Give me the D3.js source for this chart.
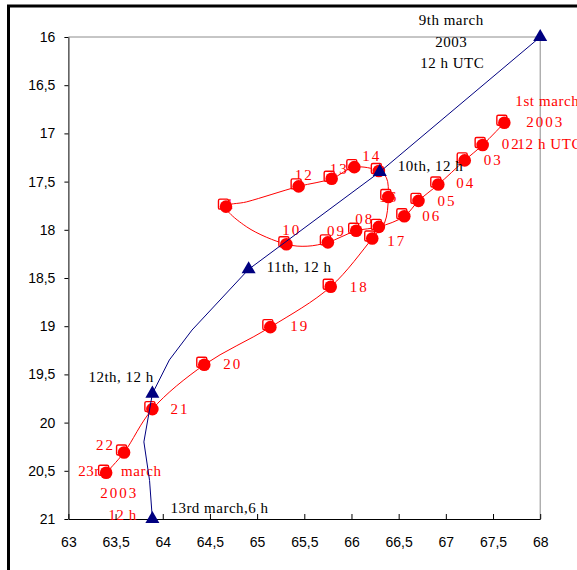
<!DOCTYPE html>
<html>
<head>
<meta charset="utf-8">
<script src="https://cdn.jsdelivr.net/npm/d3@7/dist/d3.min.js"></script>
<style>
  body { margin: 0; background: #fff; }
  svg { display: block; }
</style>
</head>
<body>
<svg id="chart" width="577" height="570"></svg>
<script>
// ---------------- DATA ----------------
const lonTicks = [63, 63.5, 64, 64.5, 65, 65.5, 66, 66.5, 67, 67.5, 68];
const latTicks = [16, 16.5, 17, 17.5, 18, 18.5, 19, 19.5, 20, 20.5, 21];

// Red track: daily positions (1st .. 23rd March 2003)
const redDays = ["01","02","03","04","05","06","07","08","09","10","11","12",
                 "13","14","15","16","17","18","19","20","21","22","23"];
const redLon = [67.62, 67.39, 67.20, 66.92, 66.71, 66.56, 66.29, 66.05, 65.75, 65.31, 64.67, 65.44,
                65.79, 66.03, 66.29, 66.39, 66.22, 65.78, 65.14, 64.44, 63.89, 63.59, 63.40];
const redLat = [16.89, 17.12, 17.28, 17.53, 17.70, 17.86, 17.97, 18.01, 18.13, 18.15, 17.76, 17.55,
                17.47, 17.35, 17.39, 17.66, 18.09, 18.59, 19.01, 19.40, 19.86, 20.31, 20.52];
// unmarked positions of the red track line (inserted after given index)
const redExtraAfter = [8, 9, 10, 14, 15];
const redExtraLon   = [65.53, 64.89, 64.89, 66.37, 66.35];
const redExtraLat   = [18.17, 17.97, 17.71, 17.46, 17.93];

// Blue track (9th 12 h .. 13th 6 h)
const blueLon    = [68.00, 66.30, 64.91, 64.31, 64.07, 63.89, 63.80, 63.86, 63.89];
const blueLat    = [16.00, 17.40, 18.41, 19.04, 19.35, 19.70, 20.20, 20.60, 21.00];
const blueMarked = [true, true, true, false, false, true, false, false, true];

// Red labels: text, index of point
const redLabelText  = ["1st march","2003","12 h UTC","02","03","04","05","06","08","09","10","11",
                       "12","13","14","16","17","18","19","20","21","22","23rd\u00a0\u00a0\u00a0march","2003","12 h"];
const redLabelPoint = [0,0,0,1,2,3,4,5,7,8,9,10,11,12,13,15,16,17,18,19,20,21,22,22,22];
// Black labels: text, index of blue point
const blackLabelText  = ["9th march","2003","12 h UTC","10th, 12 h","11th, 12 h","12th, 12 h","13rd march,6 h"];
const blackLabelPoint = [0,0,0,1,2,5,8];

// ---------------- LAYOUT ----------------
const redLabelOffset = [[11,-17],[22,4],[13,26],[19,4],[19,5],[18,4],[19,5],[18,5],[-1,-7],[-1,-6],[-4,-9],[-9,2],
                        [-4,-6],[-2,-5],[8,-6],[-9,5],[15,8],[19,5],[20,4],[19,4],[18,5],[-28,-2],[-28,3],[-6,25],[2,47]];
const blackLabelOffset = [[-89,-12,"middle"],[-89,10,"middle"],[-88,31,"middle"],[18,-1,"start"],[18,3,"start"],[-64,-12,"start"],[18,-6,"start"]];

const svg = d3.select("#chart");
const x = d3.scaleLinear().domain([63, 68]).range([68.4, 540.2]);
const y = d3.scaleLinear().domain([16, 21]).range([37, 519]);
const fmt = d => String(d).replace(".", ",");

// outer frame
svg.append("path")
  .attr("d", "M8.5,600 L8.5,6 L600,6")
  .attr("fill", "none").attr("stroke", "#000").attr("stroke-width", 3);

// plot area grey border (top & right)
svg.append("path")
  .attr("d", `M${x(63)},${y(16)} L${x(68)},${y(16)} L${x(68)},${y(21)}`)
  .attr("fill", "none").attr("stroke", "#8c8c8c").attr("stroke-width", 1);

// axes
const yAxis = svg.append("g").attr("transform", `translate(${x(63)},0)`)
  .call(d3.axisLeft(y).tickValues(latTicks).tickFormat(fmt).tickSizeInner(4).tickSizeOuter(0).tickPadding(9));
const xAxis = svg.append("g").attr("transform", `translate(0,${y(21)})`)
  .call(d3.axisBottom(x).tickValues(lonTicks).tickFormat(fmt).tickSizeInner(-5).tickSizeOuter(0).tickPadding(18));
[yAxis, xAxis].forEach(g => {
  g.selectAll("text").attr("font-family", "Liberation Sans, Arial, sans-serif").attr("font-size", 14).attr("fill", "#000");
  g.selectAll("line").attr("stroke", "#000");
  g.select(".domain").attr("stroke", "#000");
});

// red labels (behind markers)
const serif = "Liberation Serif, Times New Roman, serif";
redLabelText.forEach((t, i) => {
  const p = redLabelPoint[i];
  const isWord = /[a-z]/.test(t);
  svg.append("text")
    .attr("x", x(redLon[p]) + redLabelOffset[i][0])
    .attr("y", y(redLat[p]) + redLabelOffset[i][1])
    .attr("font-family", serif).attr("font-size", 15)
    .attr("letter-spacing", isWord ? 0.6 : 2)
    .attr("fill", "#ff0000").text(t);
});

// red line
const redPath = [];
redLon.forEach((lon, i) => {
  redPath.push([lon, redLat[i]]);
  redExtraAfter.forEach((a, k) => { if (a === i) redPath.push([redExtraLon[k], redExtraLat[k]]); });
});
svg.append("path")
  .attr("d", d3.line().x(d => x(d[0])).y(d => y(d[1])).curve(d3.curveCatmullRom.alpha(0.5))(redPath))
  .attr("fill", "none").attr("stroke", "#ff0000").attr("stroke-width", 1);

// red square markers
svg.append("g").selectAll("rect").data(redLon).join("rect")
  .attr("x", (d, i) => x(d) - 2.5 - 5)
  .attr("y", (d, i) => y(redLat[i]) - 2.5 - 5)
  .attr("width", 10).attr("height", 10).attr("rx", 1.5)
  .attr("fill", "#fff").attr("stroke", "#ff0000").attr("stroke-width", 1.4);
// red circles
svg.append("g").selectAll("circle").data(redLon).join("circle")
  .attr("cx", d => x(d)).attr("cy", (d, i) => y(redLat[i])).attr("r", 6.3)
  .attr("fill", "#ff0000");

// blue line
const bluePts = blueLon.map((d, i) => [d, blueLat[i]]);
svg.append("path")
  .attr("d", d3.line().x(d => x(d[0])).y(d => y(d[1])).curve(d3.curveLinear)(bluePts))
  .attr("fill", "none").attr("stroke", "#000080").attr("stroke-width", 1);
svg.append("g").selectAll("path").data(bluePts.filter((d, i) => blueMarked[i])).join("path")
  .attr("transform", d => `translate(${x(d[0])},${y(d[1])})`)
  .attr("d", d3.symbol(d3.symbolTriangle, 85))
  .attr("fill", "#000080");

// black labels
blackLabelText.forEach((t, i) => {
  const p = blackLabelPoint[i];
  svg.append("text")
    .attr("x", x(blueLon[p]) + blackLabelOffset[i][0])
    .attr("y", y(blueLat[p]) + blackLabelOffset[i][1])
    .attr("text-anchor", blackLabelOffset[i][2])
    .attr("font-family", serif).attr("font-size", 15)
    .attr("letter-spacing", 0.5)
    .attr("fill", "#000").text(t);
});
</script>
</body>
</html>
